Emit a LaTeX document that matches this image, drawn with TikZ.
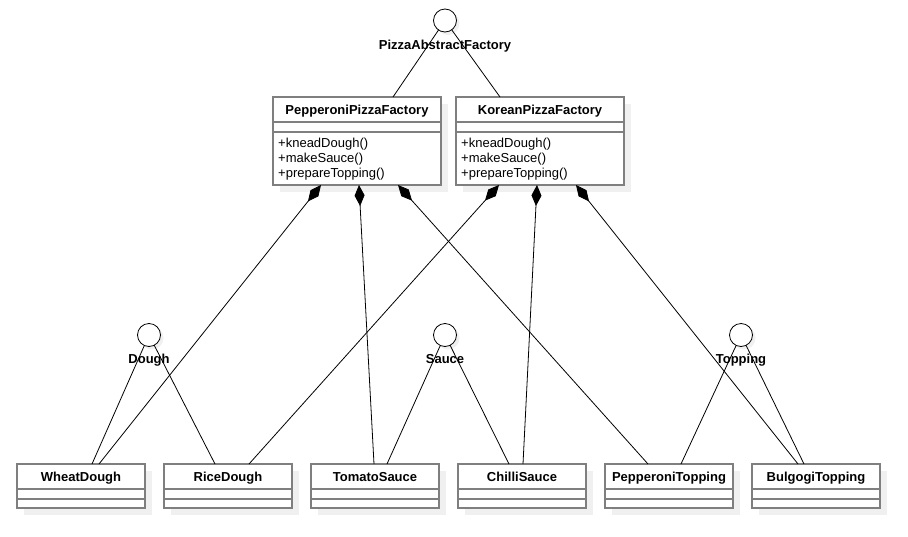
\documentclass[tikz,border=0pt]{standalone}
\usepackage{fontspec}
\setmainfont{Liberation Sans}
\usetikzlibrary{arrows.meta}
\definecolor{boxgray}{HTML}{7F7F7F}
\definecolor{shadowgray}{HTML}{F0F0F0}
\newcommand{\txt}{\fontsize{13}{15}\selectfont}
% class box: name, x, y, width, height, title
\newcommand{\umlcls}[6]{
	\fill[shadowgray] (#2+6.5,#3+6.5) rectangle ++(#4,#5);
	\node[cls, minimum width=#4, minimum height=#5] (#1) at (#2,#3) {};
	\draw[cls] ([yshift=-25pt]#1.north west) -- ([yshift=-25pt]#1.north east);
	\draw[cls] ([yshift=-35pt]#1.north west) -- ([yshift=-35pt]#1.north east);
	\node[ttl] (#1-name) at ([yshift=-17pt]#1.north) {#6};
	}
% interface circle: name, x, y, label
\newcommand{\iface}[4]{
	\fill[shadowgray] (#2+3,#3+3) circle (11.5);
	\node[ifc] (#1) at (#2,#3) {};
	\node[ttl] (#1-name) at (#2,#3+28.5) {#4};
	}

\begin{document}
\begin{tikzpicture}[
      x=1pt, y=-1pt, %pixel grid, y downwards
      cls/.style={draw=boxgray, line width=1.5pt, fill=white, anchor=north west, inner sep=0pt, outer sep=0pt},
      ifc/.style={draw, circle, fill=white, minimum size=23pt, inner sep=0pt, outer sep=0pt, line width=0.8pt},
      ttl/.style={font=\txt\bfseries, anchor=base, inner sep=0pt},
      ops/.style={font=\txt, anchor=base west, align=left, inner sep=0pt},
      link/.style={line width=0.8pt},
      comp/.style={link, -{Diamond[length=21pt,width=10pt]}}
    ]
    \useasboundingbox (0,0) rectangle (908,536);
    % Draw the interfaces
    \iface{abs}{445}{20.5}{PizzaAbstractFactory};
    \iface{dough}{149}{335}{Dough};
    \iface{sauce}{445}{335}{Sauce};
    \iface{topping}{741}{335}{Topping};
    % Draw the factories
    \umlcls{pepf}{273}{97}{168}{88}{PepperoniPizzaFactory};
    \umlcls{korf}{456}{97}{168}{88}{KoreanPizzaFactory};
    %base of a multi-line node is its last line
    \node[ops] (pepf-ops) at ([xshift=5pt,yshift=-80pt]pepf.north west) {+kneadDough()\\+makeSauce()\\+prepareTopping()};
    \node[ops] (korf-ops) at ([xshift=5pt,yshift=-80pt]korf.north west) {+kneadDough()\\+makeSauce()\\+prepareTopping()};
    % Draw the products
    \umlcls{wheat}{17}{464}{128}{44}{WheatDough};
    \umlcls{rice}{164}{464}{128}{44}{RiceDough};
    \umlcls{tomato}{311}{464}{128}{44}{TomatoSauce};
    \umlcls{chilli}{458}{464}{128}{44}{ChilliSauce};
    \umlcls{pept}{605}{464}{128}{44}{PepperoniTopping};
    \umlcls{bulg}{752}{464}{128}{44}{BulgogiTopping};
    % Realizations
    \draw[link] (abs) -- ([xshift=120pt]pepf.north west);
    \draw[link] (abs) -- ([xshift=44pt]korf.north west);
    \draw[link] (dough) -- ([xshift=75pt]wheat.north west);
    \draw[link] (dough) -- ([xshift=51pt]rice.north west);
    \draw[link] (sauce) -- ([xshift=76pt]tomato.north west);
    \draw[link] (sauce) -- ([xshift=51pt]chilli.north west);
    \draw[link] (topping) -- ([xshift=76pt]pept.north west);
    \draw[link] (topping) -- ([xshift=52pt]bulg.north west);
    % Compositions
    \draw[comp] ([xshift=82pt]wheat.north west) -- ([xshift=48pt]pepf.south west);
    \draw[comp] ([xshift=63pt]tomato.north west) -- ([xshift=86pt]pepf.south west);
    \draw[comp] ([xshift=43pt]pept.north west) -- ([xshift=125pt]pepf.south west);
    \draw[comp] ([xshift=85pt]rice.north west) -- ([xshift=43pt]korf.south west);
    \draw[comp] ([xshift=65pt]chilli.north west) -- ([xshift=81pt]korf.south west);
    \draw[comp] ([xshift=46pt]bulg.north west) -- ([xshift=120pt]korf.south west);
    \end{tikzpicture}
\end{document}
